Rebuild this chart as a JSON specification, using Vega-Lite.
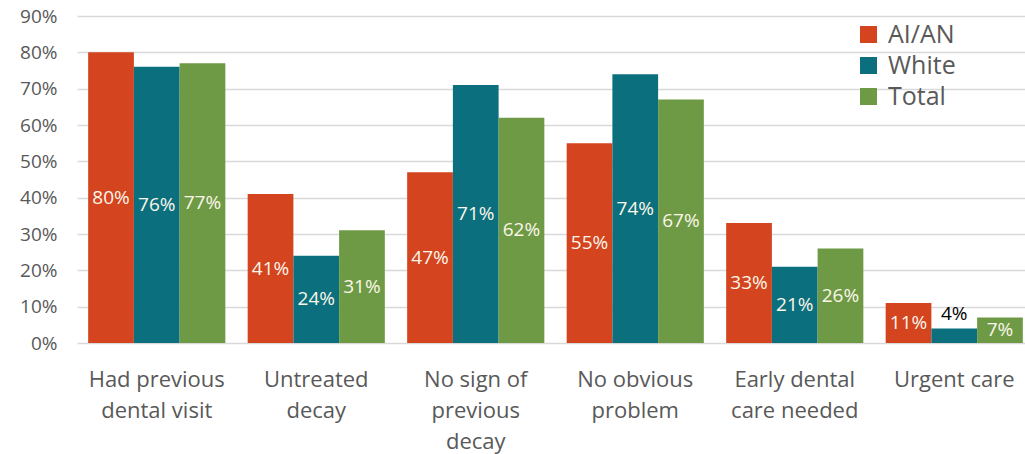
{
  "$schema": "https://vega.github.io/schema/vega-lite/v6.json",
  "autosize": "none",
  "padding": {"left": 77, "top": 16, "right": 0, "bottom": 111},
  "width": 957,
  "height": 327,
  "background": "white",
  "config": {
    "font": "Open Sans",
    "view": {"stroke": null},
    "axisY": {
      "title": null, "format": ".0%", "values": [0, 0.1, 0.2, 0.3, 0.4, 0.5, 0.6, 0.7, 0.8, 0.9],
      "ticks": false, "domain": false, "gridColor": "#D9D9D9", "gridWidth": 1.3,
      "labelFontSize": 19, "labelColor": "#595959", "labelPadding": 20,
      "labelOverlap": false, "labelFlush": false, "labelBound": false
    }
  },
  "data": {
    "values": [
      {"cat": "Had previous|dental visit", "group": "AI/AN", "v": 0.80},
      {"cat": "Had previous|dental visit", "group": "White", "v": 0.76},
      {"cat": "Had previous|dental visit", "group": "Total", "v": 0.77},
      {"cat": "Untreated|decay", "group": "AI/AN", "v": 0.41},
      {"cat": "Untreated|decay", "group": "White", "v": 0.24},
      {"cat": "Untreated|decay", "group": "Total", "v": 0.31},
      {"cat": "No sign of|previous|decay", "group": "AI/AN", "v": 0.47},
      {"cat": "No sign of|previous|decay", "group": "White", "v": 0.71},
      {"cat": "No sign of|previous|decay", "group": "Total", "v": 0.62},
      {"cat": "No obvious|problem", "group": "AI/AN", "v": 0.55},
      {"cat": "No obvious|problem", "group": "White", "v": 0.74},
      {"cat": "No obvious|problem", "group": "Total", "v": 0.67},
      {"cat": "Early dental|care needed", "group": "AI/AN", "v": 0.33},
      {"cat": "Early dental|care needed", "group": "White", "v": 0.21},
      {"cat": "Early dental|care needed", "group": "Total", "v": 0.26},
      {"cat": "Urgent care", "group": "AI/AN", "v": 0.11},
      {"cat": "Urgent care", "group": "White", "v": 0.04},
      {"cat": "Urgent care", "group": "Total", "v": 0.07}
    ]
  },
  "encoding": {
    "x": {
      "field": "cat", "type": "nominal", "sort": null,
      "scale": {"paddingInner": 0.14, "paddingOuter": 0.07},
      "axis": {
        "title": null, "labelAngle": 0, "ticks": false, "domain": false,
        "labelExpr": "split(datum.value, '|')",
        "labelFontSize": 22, "labelColor": "#595959", "labelLineHeight": 31,
        "labelPadding": 36, "labelBaseline": "middle", "labelOverlap": false, "labelBound": false
      }
    },
    "xOffset": {"field": "group", "type": "nominal", "sort": ["AI/AN", "White", "Total"], "scale": {"paddingInner": 0, "paddingOuter": 0}}
  },
  "layer": [
    {
      "mark": {"type": "bar"},
      "encoding": {
        "y": {
          "field": "v", "type": "quantitative",
          "scale": {"domain": [0, 0.9], "nice": false, "zero": true},
          "axis": {"title": null, "format": ".0%", "values": [0, 0.1, 0.2, 0.3, 0.4, 0.5, 0.6, 0.7, 0.8, 0.9]}
        },
        "color": {
          "field": "group", "type": "nominal", "sort": ["AI/AN", "White", "Total"],
          "scale": {"domain": ["AI/AN", "White", "Total"], "range": ["#D3441F", "#0B6F7D", "#6E9A45"]},
          "legend": {
            "title": null, "orient": "none", "legendX": 779, "legendY": 6,
            "symbolType": "square", "symbolSize": 289, "symbolStrokeWidth": 0,
            "labelFontSize": 25, "labelColor": "#595959", "rowPadding": 5, "labelOffset": 7
          }
        }
      }
    },
    {
      "transform": [{"filter": "datum.v >= 0.05"}, {"calculate": "datum.v / 2", "as": "mid"}],
      "mark": {"type": "text", "fontSize": 19, "color": "#FBF6EA", "baseline": "middle"},
      "encoding": {
        "y": {"field": "mid", "type": "quantitative", "axis": {"title": null, "format": ".0%", "values": [0, 0.1, 0.2, 0.3, 0.4, 0.5, 0.6, 0.7, 0.8, 0.9]}},
        "text": {"field": "v", "type": "quantitative", "format": ".0%"}
      }
    },
    {
      "transform": [{"filter": "datum.v < 0.05"}],
      "mark": {"type": "text", "fontSize": 19, "color": "#000000", "baseline": "bottom", "dy": -4},
      "encoding": {
        "y": {"field": "v", "type": "quantitative", "axis": {"title": null, "format": ".0%", "values": [0, 0.1, 0.2, 0.3, 0.4, 0.5, 0.6, 0.7, 0.8, 0.9]}},
        "text": {"field": "v", "type": "quantitative", "format": ".0%"}
      }
    }
  ]
}
